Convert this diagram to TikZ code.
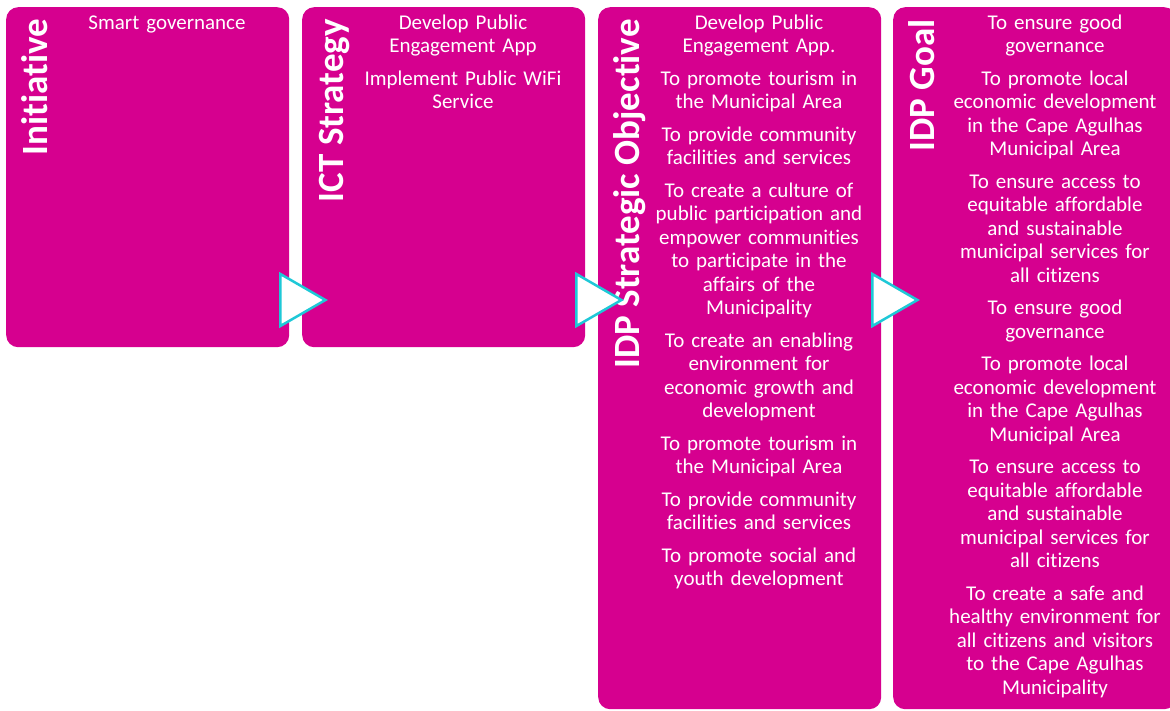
\documentclass[tikz,border=0pt]{standalone}
\usepackage{fontspec}
\setmainfont{Carlito}[Ligatures=NoCommon]
\usetikzlibrary{calc}
\definecolor{boxmagenta}{RGB}{214,0,143}
\definecolor{arrowcyan}{RGB}{30,200,215}

\begin{document}
\begin{tikzpicture}[x=1pt,y=-1pt,
    box/.style={fill=boxmagenta,rounded corners=12pt,inner sep=0pt,anchor=north west,minimum width=283pt},
    title/.style={text=white,font=\fontsize{37}{40}\selectfont\bfseries,rotate=90,anchor=base east,inner sep=0pt},
    items/.style={text=white,font=\fontsize{21}{23.5}\selectfont,align=center,text width=270pt,anchor=base,inner sep=0pt},
    pointer/.style={draw=arrowcyan,fill=white,line width=2.5pt,line join=miter}]
  \useasboundingbox (0,0) rectangle (1170,710);

  \begin{scope}
    \node[box,minimum height=340pt] (init) at (6,7) {};
    \node[box,minimum height=340pt] (ict) at (302,7) {};
    \node[box,minimum height=702pt] (obj) at (598,7) {};
    \node[box,minimum height=702pt] (goal) at (893,7) {};
  \end{scope}

  \node[title] (init-t) at (47,19) {Initiative};
  \node[title] (ict-t) at (343,19) {ICT Strategy};
  \node[title] (obj-t) at (639,19) {IDP Strategic Objective};
  \node[title] (goal-t) at (934,19) {IDP Goal};

  \node[items] (init-x) at (167,29) {Smart governance};
  \node[items] (ict-x) at (463,29) {Develop Public\\Engagement App\\[9pt]Implement Public WiFi\\Service};
  \node[items] (obj-x) at (759,29) {Develop Public\\Engagement App.\\[9pt]To promote tourism in\\the Municipal Area\\[9pt]To provide community\\facilities and services\\[9pt]To create a culture of\\public participation and\\empower communities\\to participate in the\\affairs of the\\Municipality\\[9pt]To create an enabling\\environment for\\economic growth and\\development\\[9pt]To promote tourism in\\the Municipal Area\\[9pt]To provide community\\facilities and services\\[9pt]To promote social and\\youth development};
  \node[items] (goal-x) at (1055,29) {To ensure good\\governance\\[9pt]To promote local\\economic development\\in the Cape Agulhas\\Municipal Area\\[9pt]To ensure access to\\equitable affordable\\and sustainable\\municipal services for\\all citizens\\[9pt]To ensure good\\governance\\[9pt]To promote local\\economic development\\in the Cape Agulhas\\Municipal Area\\[9pt]To ensure access to\\equitable affordable\\and sustainable\\municipal services for\\all citizens\\[9pt]To create a safe and\\healthy environment for\\all citizens and visitors\\to the Cape Agulhas\\Municipality};

  % arrows between the columns
  \draw[pointer] ($(init.north east)+(-9,267)$) -- ++(0,52) -- ++(45,-26) -- cycle;
  \draw[pointer] ($(ict.north east)+(-9,267)$) -- ++(0,52) -- ++(45,-26) -- cycle;
  \draw[pointer] ($(obj.north east)+(-9,267)$) -- ++(0,52) -- ++(45,-26) -- cycle;
\end{tikzpicture}
\end{document}
